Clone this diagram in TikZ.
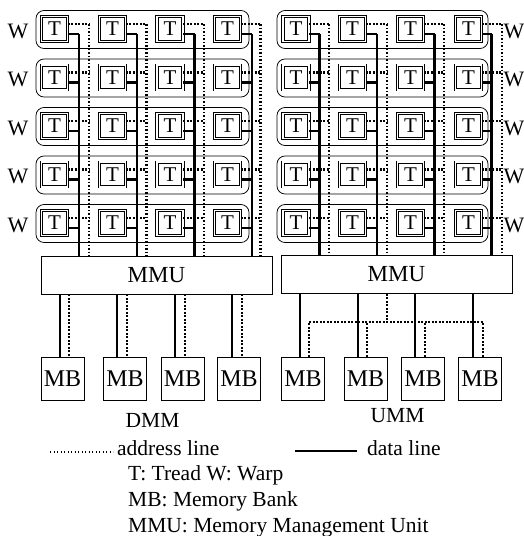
\documentclass[tikz,border=0pt]{standalone}
\usepackage{fontspec}
\setmainfont{Liberation Serif}
\begin{document}
\begin{tikzpicture}[x=1pt,y=-1pt,
  thr/.style={draw, double, double distance=1.6pt, line width=0.75pt,
    minimum width=26pt, minimum height=24.8pt, inner sep=0pt,
    font=\fontsize{21}{21}\selectfont},
  warp/.style={draw, line width=0.75pt, rounded corners=8pt,
    minimum width=213pt, minimum height=38pt, inner sep=0pt},
  wlab/.style={inner sep=0pt, font=\fontsize{22}{22}\selectfont},
  mmu/.style={draw, line width=0.75pt, minimum width=231pt, minimum height=38pt,
    inner sep=0pt, font=\fontsize{23}{23}\selectfont},
  mb/.style={draw, line width=0.75pt, minimum width=43pt, minimum height=43pt,
    inner sep=0pt, font=\fontsize{24}{24}\selectfont},
  txt/.style={inner sep=0pt, font=\fontsize{21.5}{21.5}\selectfont},
  data/.style={line width=2.4pt},
  addr/.style={line width=2.2pt, dash pattern=on 1.8pt off 1.7pt},
  addrfine/.style={line width=1.4pt, dash pattern=on 1.3pt off 2.2pt},
]
\useasboundingbox (0,0) rectangle (523,536);

% bus x positions
\foreach \c/\s/\a in {1/79/89, 2/137/146.5, 3/194.5/204, 4/252/260.5} {
  \coordinate (LS\c) at (\s,0);
  \coordinate (LA\c) at (\a,0);
}
\foreach \c/\s/\a in {1/319.5/329, 2/377/387, 3/434.5/444, 4/491.5/502} {
  \coordinate (RS\c) at (\s,0);
  \coordinate (RA\c) at (\a,0);
}

% MMUs
\node[mmu] (LMMU) at (156.5,275) {MMU};
\node[mmu] (RMMU) at (396.5,274.5) {MMU};

% warps and threads
\foreach \r in {1,...,5} {
  \pgfmathsetmacro\yy{29+48.5*(\r-1)}
  \node[warp] (LW\r) at (142.5,\yy+0.5) {};
  \node[warp, minimum width=211pt] (RW\r) at (382.5,\yy+0.5) {};
  \node[wlab] (LWl\r) at (18,\yy+2) {W};
  \node[wlab] (RWl\r) at (514,\yy+2) {W};
  \foreach \c/\x in {1/54.5,2/112.5,3/170,4/227.5} {
    \node[thr] (L\r-\c) at (\x,\yy) {T};
    \path ([yshift=5pt]L\r-\c.east) coordinate (La\r-\c)
          ([yshift=-5pt]L\r-\c.east) coordinate (Ld\r-\c);
    \draw[addr] (La\r-\c) -- (La\r-\c -| LA\c);
    \draw[data] (Ld\r-\c) -- (Ld\r-\c -| LS\c);
  }
  \foreach \c/\x in {1/296,2/352.5,3/410.5,4/468.5} {
    \node[thr] (R\r-\c) at (\x,\yy) {T};
    \path ([yshift=5pt]R\r-\c.east) coordinate (Ra\r-\c)
          ([yshift=-5pt]R\r-\c.east) coordinate (Rd\r-\c);
    \draw[addr] (Ra\r-\c) -- (Ra\r-\c -| RA\c);
    \draw[data] (Rd\r-\c) -- (Rd\r-\c -| RS\c);
  }
}

% vertical buses
\foreach \c in {1,...,4} {
  \draw[addr] (La1-\c -| LA\c) -- (LMMU.north -| LA\c);
  \draw[data] (Ld1-\c -| LS\c) -- (LMMU.north -| LS\c);
  \draw[addr] (Ra1-\c -| RA\c) -- (RMMU.north -| RA\c);
  \draw[data] (Rd1-\c -| RS\c) -- (RMMU.north -| RS\c);
}

% memory banks left (DMM)
\foreach \i/\x/\s/\a in {1/62.5/60/69, 2/125/117/127, 3/182.5/175/185, 4/239/232/242} {
  \node[mb] (LMB\i) at (\x,378.5) {MB};
  \coordinate (LMs\i) at (\s,0);
  \coordinate (LMa\i) at (\a,0);
  \draw[data] (LMMU.south -| LMs\i) -- (LMB\i.north -| LMs\i);
  \draw[addr] (LMMU.south -| LMa\i) -- (LMB\i.north -| LMa\i);
}

% memory banks right (UMM)
\coordinate (Rj) at (387,322);
\foreach \i/\x/\s/\a in {1/303/300/309, 2/365.5/358/367, 3/423/415/425, 4/480/473/483} {
  \node[mb] (RMB\i) at (\x,378.5) {MB};
  \coordinate (RMs\i) at (\s,0);
  \coordinate (RMa\i) at (\a,0);
  \draw[data] (RMMU.south -| RMs\i) -- (RMB\i.north -| RMs\i);
}
\draw[addr] (RMMU.south -| Rj) -- (Rj);
\draw[addr] (RMB1.north -| RMa1) |- (Rj);
\draw[addr] (RMB4.north -| RMa4) |- (Rj);
\draw[addr] (RMB2.north -| RMa2) -- (RMa2 |- Rj);
\draw[addr] (RMB3.north -| RMa3) -- (RMa3 |- Rj);

% captions
\node[txt, anchor=base] (dmm) at (152.5,427) {DMM};
\node[txt, anchor=base] (umm) at (397.5,422) {UMM};

% legend
\node[txt, anchor=base west] (lat) at (117,455) {address line};
\node[txt, anchor=base west] (ldt) at (367,455) {data line};
\coordinate (la1) at (50,452);
\coordinate (ld1) at (295,451);
\draw[addrfine] (la1) -- ([xshift=-4pt]la1 -| lat.west);
\draw[line width=2.3pt] (ld1) -- ([xshift=-10pt]ld1 -| ldt.west);
\node[txt, anchor=base west] (l1) at (128,480) {T: Tread W: Warp};
\node[txt, anchor=base west] (l2) at (128,506) {MB: Memory Bank};
\node[txt, anchor=base west] (l3) at (128,532) {MMU: Memory Management Unit};
\end{tikzpicture}
\end{document}
